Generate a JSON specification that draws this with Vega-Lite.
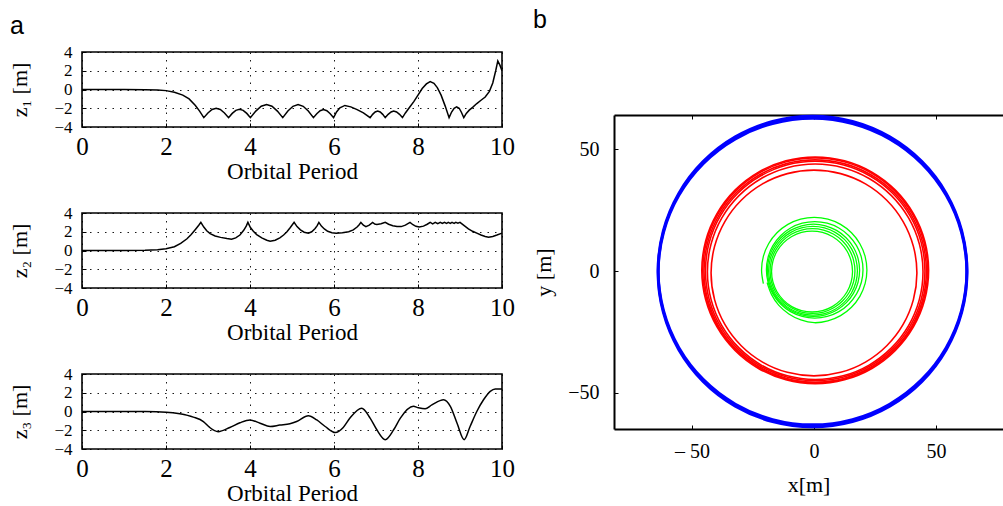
{
"$schema": "https://vega.github.io/schema/vega-lite/v6.json",
"background": "white",
"padding": {"left": 8, "top": 8, "right": 0, "bottom": 0},
"config": {
 "view": {"stroke": "#000", "strokeWidth": 1.6},
 "axis": {"labelFont": "Liberation Serif", "titleFont": "Liberation Serif", "labelColor": "#000", "titleColor": "#000", "titleFontWeight": "normal", "tickColor": "#000", "domainColor": "#000", "labelFlush": false, "labelOverlap": false, "tickSize": -4, "tickWidth": 1},
 "axisX": {"grid": true, "gridDash": [1.5, 6], "gridColor": "#000", "gridOpacity": 0.9, "domain": false, "labelFontSize": 25, "labelPadding": 11, "titleFontSize": 23, "titlePadding": 1.5},
 "axisY": {"grid": true, "gridDash": [1.5, 6], "gridColor": "#000", "gridOpacity": 0.9, "domain": false, "labelFontSize": 17, "labelPadding": 14, "titleFontSize": 22, "titlePadding": 22},
 "title": {"font": "Liberation Sans", "fontSize": 25, "fontWeight": "normal", "anchor": "start", "frame": "group", "baseline": "alphabetic", "color": "#000"}
},
"datasets": {
 "z1": [
  {"t":0,"z":0},{"t":0.5,"z":0},{"t":1,"z":0},{"t":1.5,"z":-0.02},{"t":1.8,"z":-0.06},{"t":2.0,"z":-0.12},{"t":2.2,"z":-0.3},{"t":2.4,"z":-0.6},{"t":2.55,"z":-1.0},{"t":2.7,"z":-1.7},{"t":2.8,"z":-2.3},{"t":2.9,"z":-3.0},
  {"t":2.998,"z":-2.5},{"t":3.097,"z":-2.13},{"t":3.195,"z":-2.0},{"t":3.293,"z":-2.13},{"t":3.392,"z":-2.5},{"t":3.49,"z":-3.0},
  {"t":3.577,"z":-2.55},{"t":3.663,"z":-2.22},{"t":3.75,"z":-2.1},{"t":3.837,"z":-2.22},{"t":3.923,"z":-2.55},{"t":4.01,"z":-3.0},
  {"t":4.138,"z":-2.3},{"t":4.267,"z":-1.79},{"t":4.395,"z":-1.6},{"t":4.523,"z":-1.79},{"t":4.652,"z":-2.3},{"t":4.78,"z":-3.0},
  {"t":4.902,"z":-2.3},{"t":5.023,"z":-1.79},{"t":5.145,"z":-1.6},{"t":5.267,"z":-1.79},{"t":5.388,"z":-2.3},{"t":5.51,"z":-3.0},
  {"t":5.59,"z":-2.58},{"t":5.67,"z":-2.26},{"t":5.75,"z":-2.15},{"t":5.83,"z":-2.26},{"t":5.91,"z":-2.58},{"t":5.99,"z":-3.0},
  {"t":6.06,"z":-2.4},{"t":6.14,"z":-1.95},{"t":6.26,"z":-1.7},{"t":6.4,"z":-1.85},{"t":6.55,"z":-2.15},{"t":6.7,"z":-2.5},{"t":6.86,"z":-3.0},
  {"t":6.92,"z":-2.65},{"t":6.98,"z":-2.4},{"t":7.04,"z":-2.3},{"t":7.1,"z":-2.4},{"t":7.16,"z":-2.65},{"t":7.22,"z":-3.0},
  {"t":7.29,"z":-2.65},{"t":7.36,"z":-2.4},{"t":7.42,"z":-2.3},{"t":7.49,"z":-2.4},{"t":7.56,"z":-2.65},{"t":7.63,"z":-3.0},
  {"t":7.7,"z":-2.5},{"t":7.8,"z":-1.9},{"t":7.9,"z":-1.3},{"t":8.0,"z":-0.6},{"t":8.1,"z":0.1},{"t":8.2,"z":0.6},{"t":8.29,"z":0.85},{"t":8.38,"z":0.65},{"t":8.46,"z":0.2},{"t":8.55,"z":-0.6},{"t":8.65,"z":-1.8},{"t":8.74,"z":-3.0},
  {"t":8.8,"z":-2.4},{"t":8.86,"z":-2.0},{"t":8.92,"z":-1.85},{"t":8.98,"z":-2.0},{"t":9.03,"z":-2.4},{"t":9.09,"z":-3.0},
  {"t":9.15,"z":-2.55},{"t":9.22,"z":-2.2},{"t":9.3,"z":-1.9},{"t":9.4,"z":-1.5},{"t":9.5,"z":-1.15},{"t":9.6,"z":-0.8},{"t":9.7,"z":-0.2},{"t":9.78,"z":0.7},{"t":9.85,"z":2.0},{"t":9.9,"z":3.05},{"t":9.95,"z":2.6},{"t":10,"z":2.0}
 ],
 "z2": [
  {"t":0,"z":0},{"t":0.5,"z":0},{"t":1,"z":0},{"t":1.5,"z":0.02},{"t":1.8,"z":0.07},{"t":2.0,"z":0.18},{"t":2.2,"z":0.4},{"t":2.35,"z":0.75},{"t":2.5,"z":1.25},{"t":2.6,"z":1.7},{"t":2.7,"z":2.25},{"t":2.78,"z":2.7},{"t":2.83,"z":3.0},
  {"t":2.9,"z":2.5},{"t":2.97,"z":2.1},{"t":3.05,"z":1.8},{"t":3.17,"z":1.55},{"t":3.3,"z":1.4},{"t":3.45,"z":1.27},{"t":3.56,"z":1.2},{"t":3.66,"z":1.35},{"t":3.76,"z":1.65},{"t":3.85,"z":2.15},{"t":3.91,"z":2.6},{"t":3.95,"z":3.0},
  {"t":4.01,"z":2.45},{"t":4.08,"z":2.05},{"t":4.16,"z":1.7},{"t":4.28,"z":1.35},{"t":4.4,"z":1.1},{"t":4.48,"z":1.0},{"t":4.6,"z":1.1},{"t":4.71,"z":1.35},{"t":4.8,"z":1.65},{"t":4.88,"z":2.0},{"t":4.96,"z":2.45},{"t":5.05,"z":3.0},
  {"t":5.12,"z":2.55},{"t":5.2,"z":2.2},{"t":5.29,"z":1.95},{"t":5.39,"z":1.85},{"t":5.47,"z":2.0},{"t":5.55,"z":2.35},{"t":5.6,"z":2.65},{"t":5.64,"z":3.0},
  {"t":5.7,"z":2.6},{"t":5.77,"z":2.3},{"t":5.85,"z":2.05},{"t":5.95,"z":1.9},{"t":6.05,"z":1.85},{"t":6.2,"z":1.9},{"t":6.35,"z":2.0},{"t":6.46,"z":2.2},{"t":6.55,"z":2.5},{"t":6.6,"z":2.75},{"t":6.64,"z":3.0},
  {"t":6.7,"z":2.7},{"t":6.76,"z":2.55},{"t":6.84,"z":2.7},{"t":6.92,"z":3.0},
  {"t":6.97,"z":2.82},{"t":7.02,"z":2.78},{"t":7.12,"z":2.85},{"t":7.22,"z":3.0},
  {"t":7.3,"z":2.8},{"t":7.4,"z":2.65},{"t":7.5,"z":2.55},{"t":7.6,"z":2.55},{"t":7.7,"z":2.7},{"t":7.81,"z":3.0},
  {"t":7.88,"z":2.75},{"t":7.95,"z":2.58},{"t":8.03,"z":2.5},{"t":8.13,"z":2.6},{"t":8.22,"z":2.8},{"t":8.29,"z":3.0},
  {"t":8.35,"z":2.85},{"t":8.41,"z":3.0},{"t":8.47,"z":2.86},{"t":8.53,"z":3.0},{"t":8.58,"z":2.88},{"t":8.63,"z":3.0},{"t":8.68,"z":2.88},{"t":8.72,"z":3.0},{"t":8.77,"z":2.9},{"t":8.81,"z":3.0},{"t":8.86,"z":2.9},{"t":8.9,"z":3.0},{"t":8.95,"z":2.92},{"t":9.0,"z":3.0},
  {"t":9.1,"z":2.65},{"t":9.2,"z":2.3},{"t":9.3,"z":2.05},{"t":9.4,"z":1.85},{"t":9.5,"z":1.65},{"t":9.6,"z":1.5},{"t":9.68,"z":1.42},{"t":9.78,"z":1.5},{"t":9.88,"z":1.65},{"t":10,"z":1.85}
 ],
 "z3": [
  {"t":0,"z":0},{"t":1,"z":0},{"t":1.5,"z":-0.01},{"t":2.0,"z":-0.07},{"t":2.33,"z":-0.25},{"t":2.65,"z":-0.6},{"t":2.89,"z":-1.07},{"t":3.04,"z":-1.7},{"t":3.24,"z":-2.15},{"t":3.52,"z":-1.7},{"t":3.76,"z":-1.2},{"t":4.0,"z":-0.9},{"t":4.24,"z":-1.25},{"t":4.48,"z":-1.6},{"t":4.71,"z":-1.45},{"t":4.95,"z":-1.3},{"t":5.11,"z":-1.07},{"t":5.39,"z":-0.45},{"t":5.59,"z":-0.9},{"t":5.79,"z":-1.6},{"t":6.03,"z":-2.25},{"t":6.22,"z":-1.7},{"t":6.38,"z":-0.7},{"t":6.66,"z":0.35},{"t":6.86,"z":-0.7},{"t":7.02,"z":-1.95},{"t":7.22,"z":-3.0},{"t":7.42,"z":-1.95},{"t":7.58,"z":-0.7},{"t":7.89,"z":0.55},{"t":8.01,"z":0.4},{"t":8.17,"z":0.3},{"t":8.33,"z":0.7},{"t":8.61,"z":1.25},{"t":8.77,"z":0.55},{"t":8.93,"z":-1.25},{"t":9.1,"z":-3.0},{"t":9.24,"z":-1.6},{"t":9.4,"z":0},{"t":9.56,"z":1.25},{"t":9.72,"z":2.15},{"t":9.84,"z":2.4},{"t":10,"z":2.4}
 ],
 "blue": [
  {"ring":"B1","i":0,"x":62.7,"y":0.2},{"ring":"B1","i":1,"x":60.54,"y":16.58},{"ring":"B1","i":2,"x":54.22,"y":31.85},{"ring":"B1","i":3,"x":44.16,"y":44.96},{"ring":"B1","i":4,"x":31.05,"y":55.02},{"ring":"B1","i":5,"x":15.78,"y":61.34},{"ring":"B1","i":6,"x":-0.6,"y":63.5},{"ring":"B1","i":7,"x":-16.98,"y":61.34},{"ring":"B1","i":8,"x":-32.25,"y":55.02},{"ring":"B1","i":9,"x":-45.36,"y":44.96},{"ring":"B1","i":10,"x":-55.42,"y":31.85},{"ring":"B1","i":11,"x":-61.74,"y":16.58},{"ring":"B1","i":12,"x":-63.9,"y":0.2},{"ring":"B1","i":13,"x":-61.74,"y":-16.18},{"ring":"B1","i":14,"x":-55.42,"y":-31.45},{"ring":"B1","i":15,"x":-45.36,"y":-44.56},{"ring":"B1","i":16,"x":-32.25,"y":-54.62},{"ring":"B1","i":17,"x":-16.98,"y":-60.94},{"ring":"B1","i":18,"x":-0.6,"y":-63.1},{"ring":"B1","i":19,"x":15.78,"y":-60.94},{"ring":"B1","i":20,"x":31.05,"y":-54.62},{"ring":"B1","i":21,"x":44.16,"y":-44.56},{"ring":"B1","i":22,"x":54.22,"y":-31.45},{"ring":"B1","i":23,"x":60.54,"y":-16.18},
  {"ring":"B2","i":0,"x":62.7,"y":-0.6},{"ring":"B2","i":1,"x":60.54,"y":15.78},{"ring":"B2","i":2,"x":54.22,"y":31.05},{"ring":"B2","i":3,"x":44.16,"y":44.16},{"ring":"B2","i":4,"x":31.05,"y":54.22},{"ring":"B2","i":5,"x":15.78,"y":60.54},{"ring":"B2","i":6,"x":-0.6,"y":62.7},{"ring":"B2","i":7,"x":-16.98,"y":60.54},{"ring":"B2","i":8,"x":-32.25,"y":54.22},{"ring":"B2","i":9,"x":-45.36,"y":44.16},{"ring":"B2","i":10,"x":-55.42,"y":31.05},{"ring":"B2","i":11,"x":-61.74,"y":15.78},{"ring":"B2","i":12,"x":-63.9,"y":-0.6},{"ring":"B2","i":13,"x":-61.74,"y":-16.98},{"ring":"B2","i":14,"x":-55.42,"y":-32.25},{"ring":"B2","i":15,"x":-45.36,"y":-45.36},{"ring":"B2","i":16,"x":-32.25,"y":-55.42},{"ring":"B2","i":17,"x":-16.98,"y":-61.74},{"ring":"B2","i":18,"x":-0.6,"y":-63.9},{"ring":"B2","i":19,"x":15.78,"y":-61.74},{"ring":"B2","i":20,"x":31.05,"y":-55.42},{"ring":"B2","i":21,"x":44.16,"y":-45.36},{"ring":"B2","i":22,"x":54.22,"y":-32.25},{"ring":"B2","i":23,"x":60.54,"y":-16.98}
 ],
 "red": [
  {"ring":"R1","i":0,"x":42.2,"y":-0.8},{"ring":"R1","i":1,"x":40.76,"y":10.12},{"ring":"R1","i":2,"x":36.55,"y":20.3},{"ring":"R1","i":3,"x":29.84,"y":29.04},{"ring":"R1","i":4,"x":21.1,"y":35.75},{"ring":"R1","i":5,"x":10.92,"y":39.96},{"ring":"R1","i":6,"x":0,"y":41.4},{"ring":"R1","i":7,"x":-10.92,"y":39.96},{"ring":"R1","i":8,"x":-21.1,"y":35.75},{"ring":"R1","i":9,"x":-29.84,"y":29.04},{"ring":"R1","i":10,"x":-36.55,"y":20.3},{"ring":"R1","i":11,"x":-40.76,"y":10.12},{"ring":"R1","i":12,"x":-42.2,"y":-0.8},{"ring":"R1","i":13,"x":-40.76,"y":-11.72},{"ring":"R1","i":14,"x":-36.55,"y":-21.9},{"ring":"R1","i":15,"x":-29.84,"y":-30.64},{"ring":"R1","i":16,"x":-21.1,"y":-37.35},{"ring":"R1","i":17,"x":-10.92,"y":-41.56},{"ring":"R1","i":18,"x":0,"y":-43.0},{"ring":"R1","i":19,"x":10.92,"y":-41.56},{"ring":"R1","i":20,"x":21.1,"y":-37.35},{"ring":"R1","i":21,"x":29.84,"y":-30.64},{"ring":"R1","i":22,"x":36.55,"y":-21.9},{"ring":"R1","i":23,"x":40.76,"y":-11.72},
  {"ring":"R2","i":0,"x":44.7,"y":-0.3},{"ring":"R2","i":1,"x":43.19,"y":11.14},{"ring":"R2","i":2,"x":38.78,"y":21.8},{"ring":"R2","i":3,"x":31.75,"y":30.95},{"ring":"R2","i":4,"x":22.6,"y":37.98},{"ring":"R2","i":5,"x":11.94,"y":42.39},{"ring":"R2","i":6,"x":0.5,"y":43.9},{"ring":"R2","i":7,"x":-10.94,"y":42.39},{"ring":"R2","i":8,"x":-21.6,"y":37.98},{"ring":"R2","i":9,"x":-30.75,"y":30.95},{"ring":"R2","i":10,"x":-37.78,"y":21.8},{"ring":"R2","i":11,"x":-42.19,"y":11.14},{"ring":"R2","i":12,"x":-43.7,"y":-0.3},{"ring":"R2","i":13,"x":-42.19,"y":-11.74},{"ring":"R2","i":14,"x":-37.78,"y":-22.4},{"ring":"R2","i":15,"x":-30.75,"y":-31.55},{"ring":"R2","i":16,"x":-21.6,"y":-38.58},{"ring":"R2","i":17,"x":-10.94,"y":-42.99},{"ring":"R2","i":18,"x":0.5,"y":-44.5},{"ring":"R2","i":19,"x":11.94,"y":-42.99},{"ring":"R2","i":20,"x":22.6,"y":-38.58},{"ring":"R2","i":21,"x":31.75,"y":-31.55},{"ring":"R2","i":22,"x":38.78,"y":-22.4},{"ring":"R2","i":23,"x":43.19,"y":-11.74},
  {"ring":"R3","i":0,"x":45.5,"y":0},{"ring":"R3","i":1,"x":43.97,"y":11.65},{"ring":"R3","i":2,"x":39.47,"y":22.5},{"ring":"R3","i":3,"x":32.32,"y":31.82},{"ring":"R3","i":4,"x":23.0,"y":38.97},{"ring":"R3","i":5,"x":12.15,"y":43.47},{"ring":"R3","i":6,"x":0.5,"y":45},{"ring":"R3","i":7,"x":-11.15,"y":43.47},{"ring":"R3","i":8,"x":-22.0,"y":38.97},{"ring":"R3","i":9,"x":-31.32,"y":31.82},{"ring":"R3","i":10,"x":-38.47,"y":22.5},{"ring":"R3","i":11,"x":-42.97,"y":11.65},{"ring":"R3","i":12,"x":-44.5,"y":0},{"ring":"R3","i":13,"x":-42.97,"y":-11.65},{"ring":"R3","i":14,"x":-38.47,"y":-22.5},{"ring":"R3","i":15,"x":-31.32,"y":-31.82},{"ring":"R3","i":16,"x":-22.0,"y":-38.97},{"ring":"R3","i":17,"x":-11.15,"y":-43.47},{"ring":"R3","i":18,"x":0.5,"y":-45},{"ring":"R3","i":19,"x":12.15,"y":-43.47},{"ring":"R3","i":20,"x":23.0,"y":-38.97},{"ring":"R3","i":21,"x":32.32,"y":-31.82},{"ring":"R3","i":22,"x":39.47,"y":-22.5},{"ring":"R3","i":23,"x":43.97,"y":-11.65},
  {"ring":"R4","i":0,"x":46.1,"y":0},{"ring":"R4","i":1,"x":44.55,"y":11.8},{"ring":"R4","i":2,"x":39.99,"y":22.8},{"ring":"R4","i":3,"x":32.74,"y":32.24},{"ring":"R4","i":4,"x":23.3,"y":39.49},{"ring":"R4","i":5,"x":12.3,"y":44.05},{"ring":"R4","i":6,"x":0.5,"y":45.6},{"ring":"R4","i":7,"x":-11.3,"y":44.05},{"ring":"R4","i":8,"x":-22.3,"y":39.49},{"ring":"R4","i":9,"x":-31.74,"y":32.24},{"ring":"R4","i":10,"x":-38.99,"y":22.8},{"ring":"R4","i":11,"x":-43.55,"y":11.8},{"ring":"R4","i":12,"x":-45.1,"y":0},{"ring":"R4","i":13,"x":-43.55,"y":-11.8},{"ring":"R4","i":14,"x":-38.99,"y":-22.8},{"ring":"R4","i":15,"x":-31.74,"y":-32.24},{"ring":"R4","i":16,"x":-22.3,"y":-39.49},{"ring":"R4","i":17,"x":-11.3,"y":-44.05},{"ring":"R4","i":18,"x":0.5,"y":-45.6},{"ring":"R4","i":19,"x":12.3,"y":-44.05},{"ring":"R4","i":20,"x":23.3,"y":-39.49},{"ring":"R4","i":21,"x":32.74,"y":-32.24},{"ring":"R4","i":22,"x":39.99,"y":-22.8},{"ring":"R4","i":23,"x":44.55,"y":-11.8},
  {"ring":"R5","i":0,"x":46.6,"y":0.3},{"ring":"R5","i":1,"x":45.03,"y":12.23},{"ring":"R5","i":2,"x":40.42,"y":23.35},{"ring":"R5","i":3,"x":33.1,"y":32.9},{"ring":"R5","i":4,"x":23.55,"y":40.22},{"ring":"R5","i":5,"x":12.43,"y":44.83},{"ring":"R5","i":6,"x":0.5,"y":46.4},{"ring":"R5","i":7,"x":-11.43,"y":44.83},{"ring":"R5","i":8,"x":-22.55,"y":40.22},{"ring":"R5","i":9,"x":-32.1,"y":32.9},{"ring":"R5","i":10,"x":-39.42,"y":23.35},{"ring":"R5","i":11,"x":-44.03,"y":12.23},{"ring":"R5","i":12,"x":-45.6,"y":0.3},{"ring":"R5","i":13,"x":-44.03,"y":-11.63},{"ring":"R5","i":14,"x":-39.42,"y":-22.75},{"ring":"R5","i":15,"x":-32.1,"y":-32.3},{"ring":"R5","i":16,"x":-22.55,"y":-39.62},{"ring":"R5","i":17,"x":-11.43,"y":-44.23},{"ring":"R5","i":18,"x":0.5,"y":-45.8},{"ring":"R5","i":19,"x":12.43,"y":-44.23},{"ring":"R5","i":20,"x":23.55,"y":-39.62},{"ring":"R5","i":21,"x":33.1,"y":-32.3},{"ring":"R5","i":22,"x":40.42,"y":-22.75},{"ring":"R5","i":23,"x":45.03,"y":-11.63},
  {"ring":"R6","i":0,"x":47.0,"y":0.3},{"ring":"R6","i":1,"x":45.42,"y":12.33},{"ring":"R6","i":2,"x":40.77,"y":23.55},{"ring":"R6","i":3,"x":33.38,"y":33.18},{"ring":"R6","i":4,"x":23.75,"y":40.57},{"ring":"R6","i":5,"x":12.53,"y":45.22},{"ring":"R6","i":6,"x":0.5,"y":46.8},{"ring":"R6","i":7,"x":-11.53,"y":45.22},{"ring":"R6","i":8,"x":-22.75,"y":40.57},{"ring":"R6","i":9,"x":-32.38,"y":33.18},{"ring":"R6","i":10,"x":-39.77,"y":23.55},{"ring":"R6","i":11,"x":-44.42,"y":12.33},{"ring":"R6","i":12,"x":-46.0,"y":0.3},{"ring":"R6","i":13,"x":-44.42,"y":-11.73},{"ring":"R6","i":14,"x":-39.77,"y":-22.95},{"ring":"R6","i":15,"x":-32.38,"y":-32.58},{"ring":"R6","i":16,"x":-22.75,"y":-39.97},{"ring":"R6","i":17,"x":-11.53,"y":-44.62},{"ring":"R6","i":18,"x":0.5,"y":-46.2},{"ring":"R6","i":19,"x":12.53,"y":-44.62},{"ring":"R6","i":20,"x":23.75,"y":-39.97},{"ring":"R6","i":21,"x":33.38,"y":-32.58},{"ring":"R6","i":22,"x":40.77,"y":-22.95},{"ring":"R6","i":23,"x":45.42,"y":-11.73}
 ],
 "green": [
  {"ring":"G2","i":0,"x":20.1,"y":0.5},{"ring":"G2","i":1,"x":19.43,"y":5.62},{"ring":"G2","i":2,"x":17.45,"y":10.4},{"ring":"G2","i":3,"x":14.3,"y":14.5},{"ring":"G2","i":4,"x":10.2,"y":17.65},{"ring":"G2","i":5,"x":5.42,"y":19.63},{"ring":"G2","i":6,"x":0.3,"y":20.3},{"ring":"G2","i":7,"x":-4.82,"y":19.63},{"ring":"G2","i":8,"x":-9.6,"y":17.65},{"ring":"G2","i":9,"x":-13.7,"y":14.5},{"ring":"G2","i":10,"x":-16.85,"y":10.4},{"ring":"G2","i":11,"x":-18.83,"y":5.62},{"ring":"G2","i":12,"x":-19.5,"y":0.5},{"ring":"G2","i":13,"x":-18.83,"y":-4.62},{"ring":"G2","i":14,"x":-16.85,"y":-9.4},{"ring":"G2","i":15,"x":-13.7,"y":-13.5},{"ring":"G2","i":16,"x":-9.6,"y":-16.65},{"ring":"G2","i":17,"x":-4.82,"y":-18.63},{"ring":"G2","i":18,"x":0.3,"y":-19.3},{"ring":"G2","i":19,"x":5.42,"y":-18.63},{"ring":"G2","i":20,"x":10.2,"y":-16.65},{"ring":"G2","i":21,"x":14.3,"y":-13.5},{"ring":"G2","i":22,"x":17.45,"y":-9.4},{"ring":"G2","i":23,"x":19.43,"y":-4.62},
  {"ring":"G3","i":0,"x":18.7,"y":0.3},{"ring":"G3","i":1,"x":18.06,"y":5.19},{"ring":"G3","i":2,"x":16.17,"y":9.75},{"ring":"G3","i":3,"x":13.16,"y":13.66},{"ring":"G3","i":4,"x":9.25,"y":16.67},{"ring":"G3","i":5,"x":4.69,"y":18.56},{"ring":"G3","i":6,"x":-0.2,"y":19.2},{"ring":"G3","i":7,"x":-5.09,"y":18.56},{"ring":"G3","i":8,"x":-9.65,"y":16.67},{"ring":"G3","i":9,"x":-13.56,"y":13.66},{"ring":"G3","i":10,"x":-16.57,"y":9.75},{"ring":"G3","i":11,"x":-18.46,"y":5.19},{"ring":"G3","i":12,"x":-19.1,"y":0.3},{"ring":"G3","i":13,"x":-18.46,"y":-4.59},{"ring":"G3","i":14,"x":-16.57,"y":-9.15},{"ring":"G3","i":15,"x":-13.56,"y":-13.06},{"ring":"G3","i":16,"x":-9.65,"y":-16.07},{"ring":"G3","i":17,"x":-5.09,"y":-17.96},{"ring":"G3","i":18,"x":-0.2,"y":-18.6},{"ring":"G3","i":19,"x":4.69,"y":-17.96},{"ring":"G3","i":20,"x":9.25,"y":-16.07},{"ring":"G3","i":21,"x":13.16,"y":-13.06},{"ring":"G3","i":22,"x":16.17,"y":-9.15},{"ring":"G3","i":23,"x":18.06,"y":-4.59},
  {"ring":"G4","i":0,"x":17.8,"y":0.1},{"ring":"G4","i":1,"x":17.18,"y":4.81},{"ring":"G4","i":2,"x":15.36,"y":9.2},{"ring":"G4","i":3,"x":12.47,"y":12.97},{"ring":"G4","i":4,"x":8.7,"y":15.86},{"ring":"G4","i":5,"x":4.31,"y":17.68},{"ring":"G4","i":6,"x":-0.4,"y":18.3},{"ring":"G4","i":7,"x":-5.11,"y":17.68},{"ring":"G4","i":8,"x":-9.5,"y":15.86},{"ring":"G4","i":9,"x":-13.27,"y":12.97},{"ring":"G4","i":10,"x":-16.16,"y":9.2},{"ring":"G4","i":11,"x":-17.98,"y":4.81},{"ring":"G4","i":12,"x":-18.6,"y":0.1},{"ring":"G4","i":13,"x":-17.98,"y":-4.61},{"ring":"G4","i":14,"x":-16.16,"y":-9.0},{"ring":"G4","i":15,"x":-13.27,"y":-12.77},{"ring":"G4","i":16,"x":-9.5,"y":-15.66},{"ring":"G4","i":17,"x":-5.11,"y":-17.48},{"ring":"G4","i":18,"x":-0.4,"y":-18.1},{"ring":"G4","i":19,"x":4.31,"y":-17.48},{"ring":"G4","i":20,"x":8.7,"y":-15.66},{"ring":"G4","i":21,"x":12.47,"y":-12.77},{"ring":"G4","i":22,"x":15.36,"y":-9.0},{"ring":"G4","i":23,"x":17.18,"y":-4.61},
  {"ring":"G5","i":0,"x":16.8,"y":0},{"ring":"G5","i":1,"x":16.21,"y":4.5},{"ring":"G5","i":2,"x":14.47,"y":8.7},{"ring":"G5","i":3,"x":11.7,"y":12.3},{"ring":"G5","i":4,"x":8.1,"y":15.07},{"ring":"G5","i":5,"x":3.9,"y":16.81},{"ring":"G5","i":6,"x":-0.6,"y":17.4},{"ring":"G5","i":7,"x":-5.1,"y":16.81},{"ring":"G5","i":8,"x":-9.3,"y":15.07},{"ring":"G5","i":9,"x":-12.9,"y":12.3},{"ring":"G5","i":10,"x":-15.67,"y":8.7},{"ring":"G5","i":11,"x":-17.41,"y":4.5},{"ring":"G5","i":12,"x":-18.0,"y":0},{"ring":"G5","i":13,"x":-17.41,"y":-4.5},{"ring":"G5","i":14,"x":-15.67,"y":-8.7},{"ring":"G5","i":15,"x":-12.9,"y":-12.3},{"ring":"G5","i":16,"x":-9.3,"y":-15.07},{"ring":"G5","i":17,"x":-5.1,"y":-16.81},{"ring":"G5","i":18,"x":-0.6,"y":-17.4},{"ring":"G5","i":19,"x":3.9,"y":-16.81},{"ring":"G5","i":20,"x":8.1,"y":-15.07},{"ring":"G5","i":21,"x":11.7,"y":-12.3},{"ring":"G5","i":22,"x":14.47,"y":-8.7},{"ring":"G5","i":23,"x":16.21,"y":-4.5},
  {"ring":"G6","i":0,"x":15.8,"y":-0.2},{"ring":"G6","i":1,"x":15.23,"y":4.1},{"ring":"G6","i":2,"x":13.58,"y":8.1},{"ring":"G6","i":3,"x":10.94,"y":11.54},{"ring":"G6","i":4,"x":7.5,"y":14.18},{"ring":"G6","i":5,"x":3.5,"y":15.83},{"ring":"G6","i":6,"x":-0.8,"y":16.4},{"ring":"G6","i":7,"x":-5.1,"y":15.83},{"ring":"G6","i":8,"x":-9.1,"y":14.18},{"ring":"G6","i":9,"x":-12.54,"y":11.54},{"ring":"G6","i":10,"x":-15.18,"y":8.1},{"ring":"G6","i":11,"x":-16.83,"y":4.1},{"ring":"G6","i":12,"x":-17.4,"y":-0.2},{"ring":"G6","i":13,"x":-16.83,"y":-4.5},{"ring":"G6","i":14,"x":-15.18,"y":-8.5},{"ring":"G6","i":15,"x":-12.54,"y":-11.94},{"ring":"G6","i":16,"x":-9.1,"y":-14.58},{"ring":"G6","i":17,"x":-5.1,"y":-16.23},{"ring":"G6","i":18,"x":-0.8,"y":-16.8},{"ring":"G6","i":19,"x":3.5,"y":-16.23},{"ring":"G6","i":20,"x":7.5,"y":-14.58},{"ring":"G6","i":21,"x":10.94,"y":-11.94},{"ring":"G6","i":22,"x":13.58,"y":-8.5},{"ring":"G6","i":23,"x":15.23,"y":-4.5}
 ],
 "greenStart": [
  {"i":0,"x":-20.76,"y":-5.19},{"i":1,"x":-21.5,"y":0.4},{"i":2,"x":-20.76,"y":5.99},{"i":3,"x":-18.61,"y":11.2},{"i":4,"x":-15.17,"y":15.67},{"i":5,"x":-10.7,"y":19.11},{"i":6,"x":-5.49,"y":21.26},{"i":7,"x":0.1,"y":22.0},{"i":8,"x":5.69,"y":21.26},{"i":9,"x":10.9,"y":19.11},{"i":10,"x":15.37,"y":15.67},{"i":11,"x":18.81,"y":11.2},{"i":12,"x":20.96,"y":5.99},{"i":13,"x":21.7,"y":0.4},{"i":14,"x":20.96,"y":-5.19},{"i":15,"x":18.81,"y":-10.4},{"i":16,"x":15.37,"y":-14.87},{"i":17,"x":10.9,"y":-18.31},{"i":18,"x":5.69,"y":-20.46},{"i":19,"x":0.1,"y":-21.2},{"i":20,"x":-5.39,"y":-20.08},{"i":21,"x":-10.3,"y":-17.61},{"i":22,"x":-14.4,"y":-14.1},{"i":23,"x":-17.39,"y":-9.7},{"i":24,"x":-19.22,"y":-4.78}
 ]
},
"hconcat": [
 {
  "vconcat": [
   {
    "width": 420, "height": 75,
    "title": {"text": "a", "dx": -72, "offset": 4},
    "data": {"name": "z1"},
    "mark": {"type": "line", "color": "#000", "strokeWidth": 1.5},
    "encoding": {
     "x": {"field": "t", "type": "quantitative", "scale": {"domain": [0, 10], "nice": false}, "axis": {"title": "Orbital Period", "values": [0, 2, 4, 6, 8, 10]}},
     "y": {"field": "z", "type": "quantitative", "scale": {"domain": [-4, 4], "nice": false}, "axis": {"title": "z₁ [m]", "values": [-4, -2, 0, 2, 4]}}
    }
   },
   {
    "width": 420, "height": 75,
    "data": {"name": "z2"},
    "mark": {"type": "line", "color": "#000", "strokeWidth": 1.5},
    "encoding": {
     "x": {"field": "t", "type": "quantitative", "scale": {"domain": [0, 10], "nice": false}, "axis": {"title": "Orbital Period", "values": [0, 2, 4, 6, 8, 10]}},
     "y": {"field": "z", "type": "quantitative", "scale": {"domain": [-4, 4], "nice": false}, "axis": {"title": "z₂ [m]", "values": [-4, -2, 0, 2, 4]}}
    }
   },
   {
    "width": 420, "height": 75,
    "data": {"name": "z3"},
    "mark": {"type": "line", "color": "#000", "strokeWidth": 1.5, "interpolate": "monotone"},
    "encoding": {
     "x": {"field": "t", "type": "quantitative", "scale": {"domain": [0, 10], "nice": false}, "axis": {"title": "Orbital Period", "values": [0, 2, 4, 6, 8, 10]}},
     "y": {"field": "z", "type": "quantitative", "scale": {"domain": [-4, 4], "nice": false}, "axis": {"title": "z₃ [m]", "values": [-4, -2, 0, 2, 4]}}
    }
   }
  ],
  "spacing": 86,
  "bounds": "flush"
 },
 {
  "vconcat": [
   {
    "width": 389, "height": 10,
    "title": {"text": "b", "dx": -81, "offset": 19},
    "data": {"values": []},
    "mark": "point",
    "view": {"stroke": null}
   },
   {
    "width": 389, "height": 314,
    "view": {"stroke": null},
    "resolve": {"axis": {"x": "independent"}},
    "layer": [
     {
      "data": {"name": "blue"},
      "mark": {"type": "line", "interpolate": "cardinal-closed", "color": "#0000ff", "strokeWidth": 3},
      "encoding": {
       "x": {"field": "x", "type": "quantitative", "scale": {"domain": [-82, 77.5], "nice": false, "zero": false},
             "axis": {"orient": "bottom", "title": "x[m]", "values": [-50, 0, 50], "labelExpr": "datum.value < 0 ? '– ' + format(-datum.value, 'd') : format(datum.value, 'd')", "grid": false, "domain": true, "domainWidth": 2, "tickSize": -4, "labelFontSize": 20, "labelPadding": 16, "titleFontSize": 22, "titlePadding": 13}},
       "y": {"field": "y", "type": "quantitative", "scale": {"domain": [-64.8, 64], "nice": false, "zero": false},
             "axis": {"orient": "left", "title": "y [m]", "values": [-50, 0, 50], "grid": false, "domain": true, "domainWidth": 2, "tickSize": -4, "labelFontSize": 20, "labelPadding": 19, "titleFontSize": 22, "titlePadding": 12}},
       "detail": {"field": "ring"},
       "order": {"field": "i", "type": "quantitative"}
      }
     },
     {
      "data": {"name": "red"},
      "mark": {"type": "line", "interpolate": "cardinal-closed", "color": "#ff0000", "strokeWidth": 1.6},
      "encoding": {
       "x": {"field": "x", "type": "quantitative", "axis": {"orient": "top", "title": null, "labels": false, "values": [-50, 0, 50], "grid": false, "domain": true, "domainWidth": 2, "tickSize": -4}},
       "y": {"field": "y", "type": "quantitative", "axis": {"orient": "left", "title": "y [m]", "values": [-50, 0, 50], "grid": false, "domain": true, "domainWidth": 2, "tickSize": -4, "labelFontSize": 20, "labelPadding": 19, "titleFontSize": 22, "titlePadding": 12}},
       "detail": {"field": "ring"},
       "order": {"field": "i", "type": "quantitative"}
      }
     },
     {
      "data": {"name": "green"},
      "mark": {"type": "line", "interpolate": "cardinal-closed", "color": "#00ff00", "strokeWidth": 1.3},
      "encoding": {
       "x": {"field": "x", "type": "quantitative", "axis": null},
       "y": {"field": "y", "type": "quantitative", "axis": {"orient": "left", "title": "y [m]", "values": [-50, 0, 50], "grid": false, "domain": true, "domainWidth": 2, "tickSize": -4, "labelFontSize": 20, "labelPadding": 19, "titleFontSize": 22, "titlePadding": 12}},
       "detail": {"field": "ring"},
       "order": {"field": "i", "type": "quantitative"}
      }
     },
     {
      "data": {"name": "greenStart"},
      "mark": {"type": "line", "interpolate": "cardinal", "color": "#00ff00", "strokeWidth": 1.3},
      "encoding": {
       "x": {"field": "x", "type": "quantitative", "axis": null},
       "y": {"field": "y", "type": "quantitative", "axis": {"orient": "left", "title": "y [m]", "values": [-50, 0, 50], "grid": false, "domain": true, "domainWidth": 2, "tickSize": -4, "labelFontSize": 20, "labelPadding": 19, "titleFontSize": 22, "titlePadding": 12}},
       "order": {"field": "i", "type": "quantitative"}
      }
     }
    ]
   }
  ],
  "spacing": 53,
  "bounds": "flush"
 }
],
"spacing": 16
}
